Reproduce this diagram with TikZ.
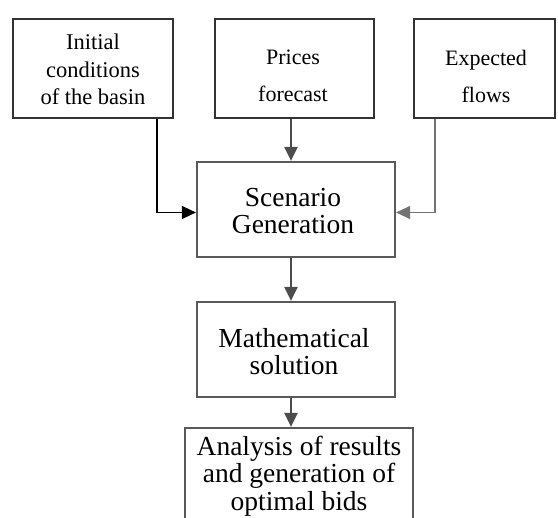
\documentclass[tikz,border=0pt]{standalone}
\usepackage{fontspec}
\setmainfont{Liberation Serif}
\usetikzlibrary{arrows.meta}
\tikzset{
  topbox/.style={draw=black!80, line width=1.5pt, minimum height=99pt, inner sep=0pt},
  lowbox/.style={draw=black!65, line width=2.2pt, minimum height=95pt, minimum width=198pt, inner sep=0pt},
  toptxt/.style={font=\fontsize{22.5}{27.5}\selectfont, align=center},
  toptxtb/.style={font=\fontsize{22}{37}\selectfont, align=center},
  lowtxt/.style={font=\fontsize{27.5}{27.5}\selectfont, align=center},
  arr/.style={line width=1.5pt, -{Triangle[length=14pt,width=13pt]}},
}
\begin{document}
\begin{tikzpicture}[x=1pt,y=-1pt]
\useasboundingbox (0,0) rectangle (558,518);
\clip (0,0) rectangle (558,518);
% top boxes
\node[topbox, minimum width=160pt] (ic) at (93,68.5) {};
\node[toptxt] (ict) at (93,69.5) {Initial\\conditions\\of the basin};
\node[topbox, minimum width=159pt] (pf) at (294.5,68.5) {};
\node[toptxtb] (pft) at (293,76) {Prices\\forecast};
\node[topbox, minimum width=141pt] (ef) at (484.5,68.5) {};
\node[toptxtb] (eft) at (486,76) {Expected\\flows};
% lower boxes
\node[lowbox] (sg) at (296,209.5) {};
\node[lowtxt] (sgt) at (293,211) {Scenario\\Generation};
\node[lowbox] (ms) at (296,349.5) {};
\node[lowtxt] (mst) at (294,351.5) {Mathematical\\solution};
\node[lowbox, minimum width=228pt, minimum height=98pt] (ar) at (299,477) {};
\node[lowtxt] (art) at (299,476) {Analysis of results\\and generation of\\optimal bids};
% guide coordinates
\coordinate (mx) at (291,0);
\coordinate (lx) at (157,0);
\coordinate (rx) at (435,0);
\coordinate (ly) at (0,212.5);
% connectors
\draw[arr, draw=black!70, line width=2.3pt] (pf.south -| mx) -- (sg.north -| mx);
\draw[arr, draw=black] (ic.south -| lx) |- (sg.west |- ly);
\draw[arr, draw=black!55, line width=1.3pt] (ef.south -| rx) |- (sg.east |- ly);
\draw[arr, draw=black!70, line width=2.3pt] (sg.south -| mx) -- (ms.north -| mx);
\draw[arr, draw=black!70, line width=2.3pt] (ms.south -| mx) -- (ar.north -| mx);
\end{tikzpicture}
\end{document}
